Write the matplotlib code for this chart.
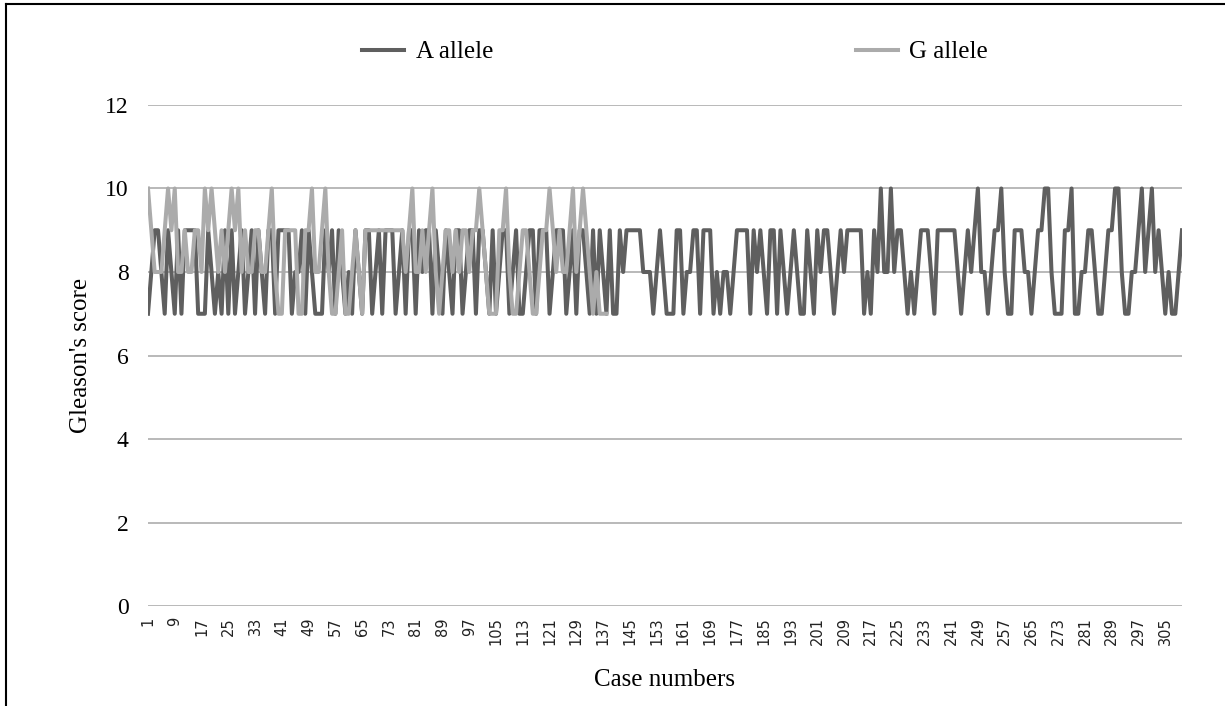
import numpy as np
import matplotlib
matplotlib.use('Agg')
import matplotlib.pyplot as plt
from matplotlib.lines import Line2D

# Gleason's score per case, A allele (cases 1..310)
a_allele = [
    7, 8, 9, 9, 8, 7, 9, 8, 7, 9,
    7, 9, 9, 9, 9, 7, 7, 7, 9, 8,
    7, 8, 7, 9, 7, 9, 7, 8, 9, 7,
    8, 9, 7, 9, 8, 7, 9, 9, 7, 9,
    9, 9, 9, 7, 8, 8, 9, 7, 9, 8,
    7, 7, 7, 9, 8, 9, 7, 9, 8, 7,
    8, 7, 9, 8, 7, 9, 9, 7, 8, 9,
    7, 9, 9, 9, 7, 8, 9, 7, 9, 9,
    7, 9, 8, 9, 9, 7, 9, 8, 7, 9,
    8, 7, 9, 9, 7, 8, 9, 9, 7, 9,
    9, 8, 7, 9, 7, 8, 9, 9, 7, 8,
    9, 7, 7, 8, 9, 9, 7, 9, 9, 9,
    7, 8, 9, 9, 9, 7, 8, 9, 7, 9,
    9, 8, 7, 9, 7, 9, 8, 7, 9, 7,
    7, 9, 8, 9, 9, 9, 9, 9, 8, 8,
    8, 7, 8, 9, 8, 7, 7, 7, 9, 9,
    7, 8, 8, 9, 9, 7, 9, 9, 9, 7,
    8, 7, 8, 8, 7, 8, 9, 9, 9, 9,
    7, 9, 8, 9, 8, 7, 9, 9, 7, 9,
    8, 7, 8, 9, 8, 7, 7, 9, 8, 7,
    9, 8, 9, 9, 8, 7, 8, 9, 8, 9,
    9, 9, 9, 9, 7, 8, 7, 9, 8, 10,
    8, 8, 10, 8, 9, 9, 8, 7, 8, 7,
    8, 9, 9, 9, 8, 7, 9, 9, 9, 9,
    9, 9, 8, 7, 8, 9, 8, 9, 10, 8,
    8, 7, 8, 9, 9, 10, 8, 7, 7, 9,
    9, 9, 8, 8, 7, 8, 9, 9, 10, 10,
    8, 7, 7, 7, 9, 9, 10, 7, 7, 8,
    8, 9, 9, 8, 7, 7, 8, 9, 9, 10,
    10, 8, 7, 7, 8, 8, 9, 10, 8, 9,
    10, 8, 9, 8, 7, 8, 7, 7, 8, 9,
]

# G allele (cases 1..138)
g_allele = [
    10, 9, 8, 8, 8, 9, 10, 9, 10, 8,
    8, 9, 8, 8, 9, 9, 8, 10, 9, 10,
    9, 8, 9, 8, 9, 10, 9, 10, 8, 9,
    8, 8, 9, 9, 8, 8, 9, 10, 8, 7,
    7, 9, 9, 9, 9, 7, 7, 9, 9, 10,
    8, 8, 9, 10, 8, 7, 7, 8, 9, 7,
    7, 8, 9, 8, 7, 9, 9, 9, 9, 9,
    9, 9, 9, 9, 9, 9, 9, 8, 9, 10,
    8, 8, 9, 8, 9, 10, 8, 7, 8, 9,
    9, 8, 9, 8, 9, 9, 8, 9, 9, 10,
    9, 8, 7, 7, 7, 9, 9, 10, 8, 7,
    7, 8, 9, 9, 8, 7, 7, 8, 9, 9,
    10, 9, 8, 9, 8, 8, 9, 10, 8, 9,
    10, 9, 8, 7, 8, 7, 7, 7,
]

tick_cases = list(range(1, 306, 8))
y_ticks = [0, 2, 4, 6, 8, 10, 12]

serif = ['Liberation Serif', 'DejaVu Serif']

fig = plt.figure(figsize=(12.25, 7.06), dpi=100)
ax = fig.add_axes([0.1208, 0.1416, 0.8441, 0.7097])

xa = np.arange(1, len(a_allele) + 1)
xg = np.arange(1, len(g_allele) + 1)
ax.plot(xa, a_allele, color='#5f5f5f', lw=2.9, label='A allele', solid_joinstyle='round')
ax.plot(xg, g_allele, color='#ababab', lw=2.9, label='G allele', solid_joinstyle='round')

ax.set_xlim(1, len(a_allele))
ax.set_ylim(0, 12)
ax.set_yticks(y_ticks)
ax.set_yticklabels([str(v) for v in y_ticks], family=serif, fontsize=17)
ax.set_xticks(tick_cases)
ax.set_xticklabels([str(v) for v in tick_cases], rotation=90, fontsize=10.5,
                   family='DejaVu Sans', color='#222222')
ax.tick_params(axis='both', length=0)
ax.tick_params(axis='y', pad=14)
ax.tick_params(axis='x', pad=8)
ax.grid(axis='y', color='#a6a6a6', lw=1.1)
ax.set_axisbelow(True)
for s in ax.spines.values():
    s.set_visible(False)

ax.set_ylabel("Gleason's score", family=serif, fontsize=18, labelpad=9)
ax.set_xlabel('Case numbers', family=serif, fontsize=18, labelpad=17)

fig.legend(loc='center', bbox_to_anchor=(0.551, 0.926), ncol=2, frameon=False,
           prop={'family': serif, 'size': 18}, handlelength=1.7,
           handletextpad=0.45, columnspacing=14.5)

# outer frame (left and top edges visible in the source)
fig.add_artist(Line2D([6 / 1225, 6 / 1225], [0, 1 - 4 / 706], color='black', lw=1.5,
                      transform=fig.transFigure))
fig.add_artist(Line2D([6 / 1225, 1], [1 - 4 / 706, 1 - 4 / 706], color='black', lw=1.5,
                      transform=fig.transFigure))

fig.savefig('out.png', dpi=100)
